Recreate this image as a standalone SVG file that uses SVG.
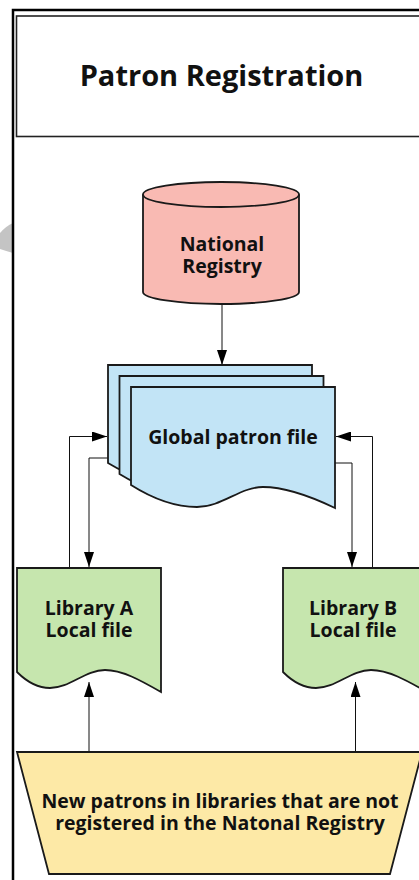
<svg xmlns="http://www.w3.org/2000/svg" width="419" height="880" viewBox="0 0 419 880">
<style>
.t{font-family:"Open Sans","Noto Sans","DejaVu Sans",sans-serif;font-weight:700;fill:#111;text-anchor:middle}
.n{font-size:19.5px}
.shape{stroke:#1a1a1a;stroke-width:1.8;stroke-linejoin:miter}
.c{fill:none;stroke:#111;stroke-width:1}
</style>
<defs>
<marker id="ah" markerUnits="userSpaceOnUse" markerWidth="15" markerHeight="10" refX="15" refY="5" orient="auto">
<path d="M0,0 L15,5 L0,10 Z" fill="#000"/>
</marker>
</defs>
<rect width="419" height="880" fill="#fff"/>
<path d="M0,233 Q6,226 13,223 V253 Q6,251 0,249 Z" fill="#c4c4c4"/>
<g id="frame">
<rect x="13" y="10" width="418" height="880" fill="none" stroke="#000" stroke-width="2.5"/>
</g>
<g id="title">
<rect x="16.5" y="16" width="411" height="120.5" fill="#fff" stroke="#222" stroke-width="1.6"/>
<text class="t" x="221.5" y="86" font-size="29">Patron Registration</text>
</g>
<g id="connectors">
<line class="c" x1="222" y1="304" x2="222" y2="365" marker-end="url(#ah)"/>
<polyline class="c" points="69.5,568 69.5,436.5 107,436.5" marker-end="url(#ah)"/>
<polyline class="c" points="108,458 89,458 89,567" marker-end="url(#ah)"/>
<polyline class="c" points="335,463 352,463 352,567" marker-end="url(#ah)"/>
<polyline class="c" points="372.5,568 372.5,436.5 336,436.5" marker-end="url(#ah)"/>
<line class="c" x1="89" y1="752" x2="89" y2="682" marker-end="url(#ah)"/>
<line class="c" x1="355.5" y1="752" x2="355.5" y2="682" marker-end="url(#ah)"/>
</g>
<g id="national-registry">
<path class="shape" fill="#f9bab3" d="M143,194.5 V292 A78,12 0 0 0 299,292 V194.5 A78,12.5 0 0 0 143,194.5 Z"/>
<path class="shape" fill="none" d="M143,194.5 A78,12.5 0 0 0 299,194.5"/>
<text class="t n" x="222" y="251">National</text>
<text class="t n" x="222" y="273">Registry</text>
</g>
<g id="global-patron-file">
<path class="shape" fill="#c2e4f6" d="M108,365 H312 V486 C288,474 263,465 241,465 C218,465 200,485 175,485 C150,485 128,475 108,463 Z"/>
<path class="shape" fill="#c2e4f6" d="M119.5,376 H323.5 V497 C299,485 274,476 252,476 C229,476 211,496 186,496 C161,496 139,486 119.5,474 Z"/>
<path class="shape" fill="#c2e4f6" d="M131,387 H335 V508 C310,496 285,487 263,487 C240,487 222,507 197,507 C172,507 150,497 131,485 Z"/>
<text class="t n" x="233" y="444">Global patron file</text>
</g>
<g id="library-a">
<path class="shape" fill="#c6e6ae" d="M17,568 H161 V692 C140,680 122,670 105,670 C85,670 70,688 50,688 C35,688 25,680 17,672 Z"/>
<text class="t n" x="89" y="615">Library A</text>
<text class="t n" x="89" y="637">Local file</text>
</g>
<g id="library-b">
<path class="shape" fill="#c6e6ae" d="M283,568 H427 V692 C406,680 388,670 371,670 C351,670 336,688 316,688 C301,688 291,680 283,672 Z"/>
<text class="t n" x="353" y="615">Library B</text>
<text class="t n" x="353" y="637">Local file</text>
</g>
<g id="new-patrons">
<path class="shape" fill="#fde9a6" d="M17,752 H422 L390,874 H49 Z"/>
<text class="t n" x="220" y="808">New patrons in libraries that are not</text>
<text class="t n" x="220" y="830">registered in the Natonal Registry</text>
</g>
</svg>
